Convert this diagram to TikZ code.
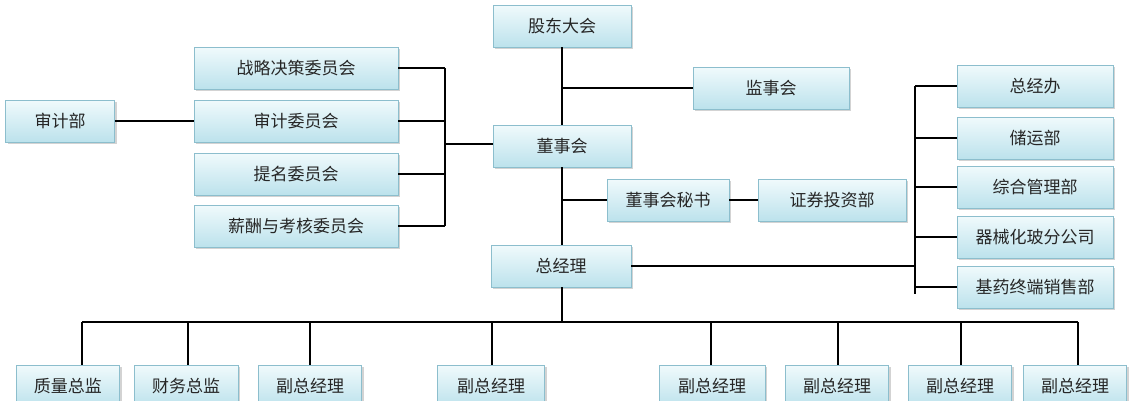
\documentclass[tikz,border=0pt]{standalone}
\usepackage{fontspec}
\setmainfont{Noto Sans CJK SC}
\usetikzlibrary{shadows}
\definecolor{boxbot}{RGB}{188,226,236}
\definecolor{boxtop}{RGB}{240,250,252}
\definecolor{boxline}{RGB}{140,190,205}
\begin{document}
\begin{tikzpicture}[x=1pt,y=-1pt,
  box/.style={draw=boxline,line width=0.8pt,top color=boxtop,bottom color=boxbot,
    minimum height=42pt,inner sep=0pt,font=\fontsize{17}{17}\selectfont,text=black!85,
    drop shadow={shadow xshift=2pt,shadow yshift=-2pt,opacity=0.35}},
  ln/.style={line width=1.6pt}]
\useasboundingbox (0,0) rectangle (1133,400);
\clip (0,0) rectangle (1133,400);
\newcommand{\bx}[5]{\node[box,minimum width=#4pt] (#1) at (#2,#3) {#5};}
\bx{gd}{562}{26}{138}{股东大会}
\bx{js}{771}{88}{156}{监事会}
\bx{ds}{562}{146}{138}{董事会}
\bx{zl}{296}{68}{204}{战略决策委员会}
\bx{sj}{296}{121}{204}{审计委员会}
\bx{tm}{296}{174}{204}{提名委员会}
\bx{xc}{296}{226}{204}{薪酬与考核委员会}
\bx{sjb}{60}{121}{109}{审计部}
\bx{ms}{668}{200}{122}{董事会秘书}
\bx{zq}{832}{200}{148}{证券投资部}
\bx{zjl}{561}{266}{140}{总经理}
\bx{r1}{1035}{86}{156}{总经办}
\bx{r2}{1035}{138}{156}{储运部}
\bx{r3}{1035}{187}{156}{综合管理部}
\bx{r4}{1035}{237}{156}{器械化玻分公司}
\bx{r5}{1035}{287}{156}{基药终端销售部}
\bx{b1}{68}{386}{103}{质量总监}
\bx{b2}{186}{386}{104}{财务总监}
\bx{b3}{310}{386}{103}{副总经理}
\bx{b4}{491}{386}{107}{副总经理}
\bx{b5}{712}{386}{106}{副总经理}
\bx{b6}{837}{386}{103}{副总经理}
\bx{b7}{960}{386}{103}{副总经理}
\bx{b8}{1075}{386}{103}{副总经理}
% lines
\draw[ln] (gd.south) -- (ds.north);
\draw[ln] (562,88) -- (js.west);
\draw[ln] (ds.south) -- (zjl.north -| ds.south);
\draw[ln] (562,200) -- (ms.west);
\draw[ln] (ms.east) -- (zq.west);
\draw[ln] (sjb.east) -- (sj.west);
\foreach \n in {zl,sj,tm,xc} \draw[ln] (\n.east) -- (445,0 |- \n.east);
\draw[ln] (445,68) -- (445,226);
\draw[ln] (445,144) -- (ds.west |- 0,144);
\draw[ln] (zjl.east) -- (915,266);
\draw[ln] (915,86) -- (915,294);
\foreach \n in {r1,r2,r3,r4,r5} \draw[ln] (915,0 |- \n.west) -- (\n.west);
\draw[ln] (562,287) -- (562,322);
\draw[ln] (82,322) -- (1078,322);
\foreach \x/\n in {82/b1,188/b2,310/b3,492/b4,711/b5,838/b6,961/b7,1078/b8} \draw[ln] (\x,322) -- (\x,0 |- \n.north);
\end{tikzpicture}
\end{document}
